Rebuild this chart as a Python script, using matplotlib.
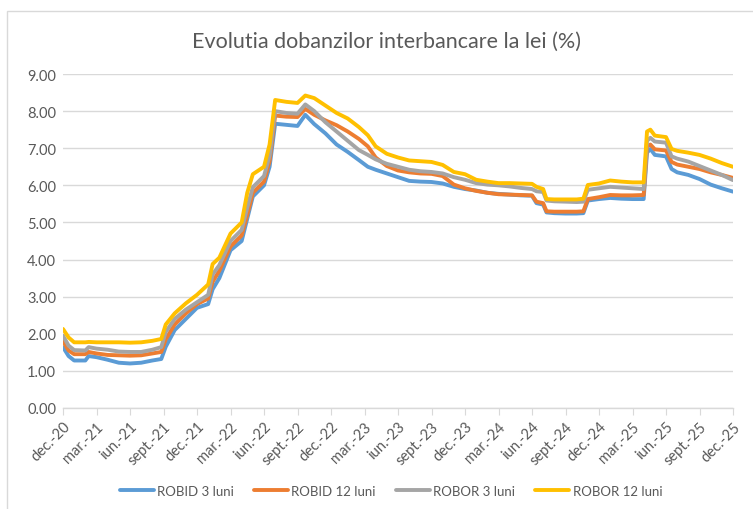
import matplotlib
matplotlib.use("Agg")
import matplotlib.pyplot as plt
from matplotlib.patches import Rectangle

plt.rcParams['font.family'] = ['Lato', 'DejaVu Sans']

# months since dec.-20
months = [0, 0.5, 1, 2, 2.3, 3, 4, 5, 6, 7, 8, 8.8, 9.2, 10, 11, 12, 13, 13.4, 14, 15,
          16, 16.5, 17, 18, 18.5, 19, 20, 21, 21.7, 22.5, 23.5, 24.5, 25.5, 26.5, 27.3,
          28, 29, 30, 31, 32, 33, 34, 35, 36, 37, 38, 39, 40, 41, 42, 42.4, 43, 43.3,
          44, 45, 46, 46.6, 47, 48, 49, 50, 51, 52, 52.3, 52.6, 53, 54, 54.5, 55, 56,
          57, 58, 59, 60]

robid_3 = [1.64, 1.40, 1.28, 1.28, 1.40, 1.37, 1.30, 1.22, 1.20, 1.22, 1.28, 1.32, 1.65,
           2.10, 2.40, 2.70, 2.80, 3.20, 3.50, 4.25, 4.50, 5.10, 5.70, 6.00, 6.50, 7.66,
           7.63, 7.60, 7.90, 7.65, 7.40, 7.10, 6.90, 6.68, 6.50, 6.42, 6.32, 6.22, 6.12,
           6.10, 6.09, 6.05, 5.96, 5.90, 5.86, 5.80, 5.77, 5.75, 5.73, 5.72, 5.52, 5.48,
           5.27, 5.25, 5.24, 5.24, 5.25, 5.59, 5.63, 5.66, 5.64, 5.63, 5.63, 6.88, 6.98,
           6.82, 6.78, 6.44, 6.35, 6.28, 6.17, 6.02, 5.92, 5.83]

robid_12 = [1.80, 1.55, 1.45, 1.45, 1.51, 1.47, 1.43, 1.42, 1.41, 1.42, 1.47, 1.51, 1.85,
            2.25, 2.55, 2.80, 2.95, 3.40, 3.70, 4.35, 4.65, 5.20, 5.80, 6.10, 6.65, 7.88,
            7.85, 7.84, 8.06, 7.90, 7.75, 7.62, 7.45, 7.25, 7.05, 6.75, 6.52, 6.40, 6.35,
            6.32, 6.31, 6.25, 6.02, 5.92, 5.85, 5.80, 5.76, 5.75, 5.74, 5.73, 5.56, 5.52,
            5.30, 5.29, 5.29, 5.29, 5.30, 5.63, 5.68, 5.74, 5.73, 5.73, 5.74, 7.05, 7.10,
            6.97, 6.94, 6.63, 6.56, 6.50, 6.44, 6.35, 6.28, 6.20]

robor_3 = [1.95, 1.68, 1.56, 1.55, 1.64, 1.60, 1.57, 1.52, 1.51, 1.51, 1.57, 1.64, 2.05,
           2.40, 2.65, 2.85, 3.05, 3.60, 3.85, 4.50, 4.80, 5.40, 5.95, 6.25, 6.80, 8.00,
           7.95, 7.93, 8.18, 8.00, 7.70, 7.45, 7.20, 6.95, 6.82, 6.70, 6.58, 6.50, 6.42,
           6.38, 6.36, 6.32, 6.22, 6.15, 6.06, 6.02, 6.00, 5.97, 5.93, 5.90, 5.84, 5.82,
           5.59, 5.57, 5.56, 5.55, 5.56, 5.88, 5.92, 5.96, 5.94, 5.92, 5.90, 7.20, 7.28,
           7.18, 7.15, 6.78, 6.72, 6.64, 6.52, 6.40, 6.28, 6.14]

robor_12 = [2.13, 1.90, 1.77, 1.77, 1.78, 1.77, 1.77, 1.77, 1.76, 1.77, 1.81, 1.86, 2.25,
            2.55, 2.82, 3.05, 3.33, 3.88, 4.05, 4.70, 5.00, 5.80, 6.30, 6.50, 7.10, 8.30,
            8.25, 8.22, 8.42, 8.35, 8.15, 7.95, 7.80, 7.57, 7.35, 7.05, 6.85, 6.75, 6.67,
            6.65, 6.63, 6.55, 6.36, 6.30, 6.15, 6.10, 6.06, 6.06, 6.05, 6.04, 5.96, 5.90,
            5.63, 5.62, 5.62, 5.62, 5.64, 6.01, 6.05, 6.13, 6.10, 6.08, 6.08, 7.45, 7.50,
            7.34, 7.30, 6.98, 6.93, 6.88, 6.82, 6.72, 6.60, 6.50]

tick_labels = ["dec.-20", "mar.-21", "iun.-21", "sept.-21", "dec.-21", "mar.-22", "iun.-22",
               "sept.-22", "dec.-22", "mar.-23", "iun.-23", "sept.-23", "dec.-23", "mar.-24",
               "iun.-24", "sept.-24", "dec.-24", "mar.-25", "iun.-25", "sept.-25", "dec.-25"]

series = [("ROBID 3 luni", robid_3, "#5B9BD5"),
          ("ROBID 12 luni", robid_12, "#ED7D31"),
          ("ROBOR 3 luni", robor_3, "#A5A5A5"),
          ("ROBOR 12 luni", robor_12, "#FFC000")]

text_color = "#595959"
grid_color = "#D9D9D9"

fig = plt.figure(figsize=(7.53, 5.10), dpi=100)
ax = fig.add_axes([63 / 753, 1 - 409 / 510, 670 / 753, 334 / 510])

# chart border
fig.patches.append(Rectangle((7 / 753, -0.05), 1.0, 1 - 12 / 510 + 0.05,
                             transform=fig.transFigure, fill=False,
                             edgecolor="#D9D9D9", linewidth=1.0))

for name, vals, color in series:
    ax.plot(months, vals, color=color, linewidth=2.8, label=name,
            solid_joinstyle="round", solid_capstyle="round")

ax.set_xlim(0, 60)
ax.set_ylim(0, 9)
ax.set_yticks(range(0, 10))
ax.set_yticklabels([f"{v:.2f}" for v in range(0, 10)])
ax.set_xticks(range(0, 61, 3))
ax.set_xticklabels(tick_labels, rotation=45, ha="right", va="top",
                   rotation_mode="anchor")

ax.grid(axis="y", color=grid_color, linewidth=1.0)
ax.set_axisbelow(True)
for side in ["left", "right", "top"]:
    ax.spines[side].set_visible(False)
ax.spines["bottom"].set_color(grid_color)
ax.spines["bottom"].set_linewidth(1.0)
ax.tick_params(axis="y", length=0, pad=5, labelsize=10.5, labelcolor=text_color)
ax.tick_params(axis="x", length=5, color=grid_color, pad=3, labelsize=10.5,
               labelcolor=text_color)

fig.text(386 / 753, 1 - 42 / 510, "Evolutia dobanzilor interbancare la lei (%)",
         ha="center", va="center", fontsize=15.5, color=text_color)

fig.legend(loc="center", bbox_to_anchor=(391 / 753, 1 - 492 / 510), ncol=4,
           frameon=False, fontsize=9.5, labelcolor=text_color, handlelength=2.6,
           handletextpad=0.25, columnspacing=1.5)

fig.savefig("out.png", dpi=100)
